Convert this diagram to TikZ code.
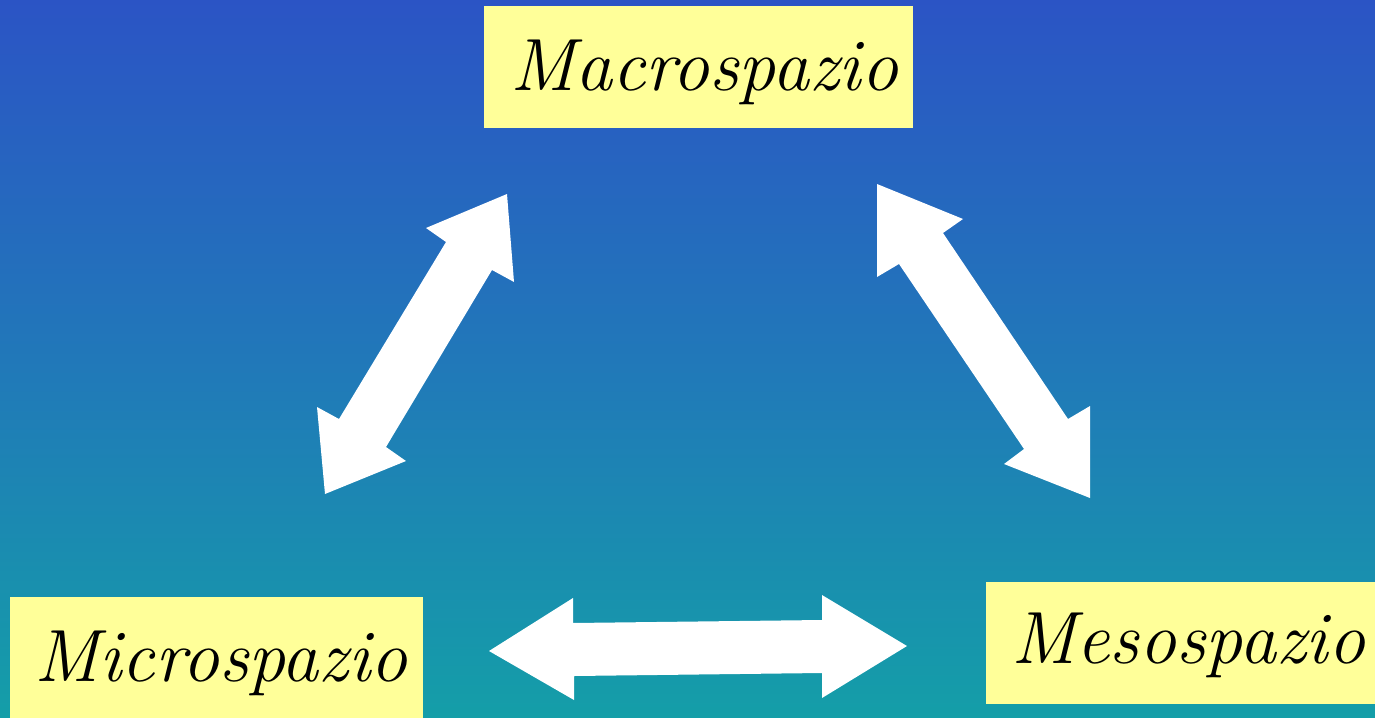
\documentclass[tikz,border=0pt]{standalone}
\usetikzlibrary{positioning}
\definecolor{bgtop}{RGB}{43,84,197}
\definecolor{bgmid}{RGB}{33,120,185}
\definecolor{bgbot}{RGB}{20,158,168}
\definecolor{boxyellow}{RGB}{255,255,153}
\tikzset{
  labelbox/.style={fill=boxyellow, draw=none, inner sep=0pt, anchor=north west,
    font=\fontsize{74}{74}\selectfont\itshape, text height=60pt, text depth=14pt},
  blockarrow/.style={fill=white, draw=none}
}
\begin{document}
\begin{tikzpicture}[x=1pt,y=-1pt]
\useasboundingbox (0,0) rectangle (1375,717);
\shade[top color=bgtop, bottom color=bgbot, middle color=bgmid] (0,0) rectangle (1375,717);
% boxes
\node[labelbox, minimum width=429pt, minimum height=122pt] (macro) at (484,6) {\hspace*{11pt}Macrospazio};
\node[labelbox, minimum width=413pt, minimum height=122pt] (micro) at (10,597) {\hspace*{9pt}Microspazio};
\node[labelbox, minimum width=404pt, minimum height=122pt, text height=57pt, text depth=17pt] (meso) at (986,582) {Mesospazio};
% arrows
\coordinate (lt1) at (507,194);
\coordinate (lt2) at (325,494);
\fill[blockarrow] (lt1) -- (514,282) -- (492,270) -- (386,447) -- (406,461) -- (lt2)
  -- (317,407) -- (339,419) -- (446,242) -- (426,228) -- cycle;
\coordinate (rt1) at (877,184);
\coordinate (rt2) at (1090,498);
\fill[blockarrow] (rt1) -- (963,219) -- (943,233) -- (1068,419) -- (1090,406) -- (rt2)
  -- (1004,464) -- (1024,449) -- (899,264) -- (877,277) -- cycle;
\coordinate (bt1) at (489,651);
\coordinate (bt2) at (907,646);
\fill[blockarrow] (bt1) -- (573,598) -- (573,623) -- (822,620) -- (822,595) -- (bt2)
  -- (822,698) -- (822,673) -- (574,676) -- (574,700) -- cycle;
\end{tikzpicture}
\end{document}
